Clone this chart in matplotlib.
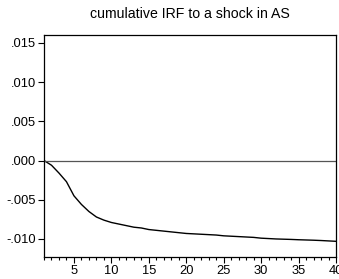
import numpy as np
import matplotlib.pyplot as plt
from matplotlib.ticker import MultipleLocator, FuncFormatter

# horizonte e resposta acumulada
periodos = list(range(1, 41))
resposta = [0.0, -0.0006, -0.0016, -0.0027, -0.0045, -0.0056, -0.0065, -0.0072,
            -0.0076, -0.0079, -0.0081, -0.0083, -0.0085, -0.0086, -0.0088,
            -0.0089, -0.0090, -0.0091, -0.0092, -0.0093, -0.00935, -0.0094,
            -0.00945, -0.0095, -0.0096, -0.00965, -0.0097, -0.00975, -0.0098,
            -0.0099, -0.00995, -0.0100, -0.01003, -0.01006, -0.0101, -0.01013,
            -0.01016, -0.0102, -0.01025, -0.0103]
titulo = 'cumulative IRF to a shock in AS'

plt.rcParams['font.family'] = ['Liberation Sans', 'DejaVu Sans']

fig = plt.figure(figsize=(3.39, 2.79), dpi=100)
ax = fig.add_axes([44 / 339, 1 - 257 / 279, 292 / 339, 222 / 279])

ax.plot(periodos, resposta, color='black', lw=1.0)
ax.axhline(0, color='#555555', lw=0.9)

ax.set_xlim(1, 40)
ax.set_ylim(-0.0123, 0.0160)
ax.set_yticks([-0.010, -0.005, 0.0, 0.005, 0.010, 0.015])

def fmt(v, pos):
    s = '%.3f' % v
    return s.replace('0.', '.', 1)

ax.yaxis.set_major_formatter(FuncFormatter(fmt))
ax.xaxis.set_major_locator(MultipleLocator(5))
ax.xaxis.set_minor_locator(MultipleLocator(1))

ax.tick_params(axis='both', which='major', direction='out', length=4, width=0.8,
               labelsize=9.3, colors='black', pad=1.5)
ax.tick_params(axis='x', which='minor', direction='out', length=2.5, width=0.8)

for s in ax.spines.values():
    s.set_linewidth(0.9)

fig.text(190 / 339, 1 - 14 / 279, titulo, ha='center', va='center', fontsize=10.2)

fig.savefig('out.png', dpi=100)
